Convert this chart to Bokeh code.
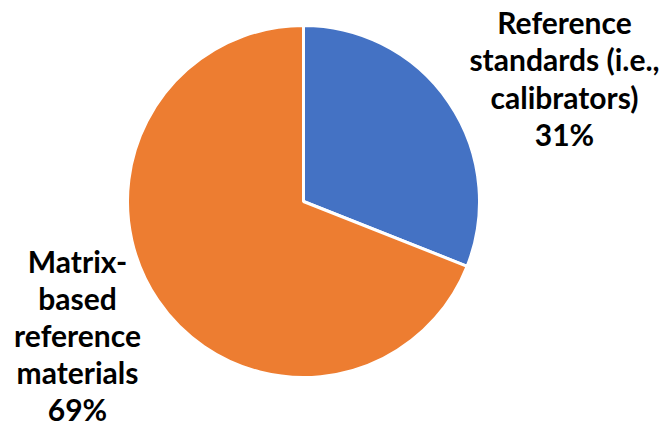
import math
from bokeh.plotting import figure
from bokeh.models import ColumnDataSource, Range1d
from bokeh.core.properties import value
from bokeh.embed import file_html
from bokeh.resources import INLINE

# ---- data ----
categories = ["Reference standards (i.e., calibrators)", "Matrix-based reference materials"]
percents = [31, 69]
colors = ["#4472C4", "#ED7D31"]
label_lines = [["Reference", "standards (i.e.,", "calibrators)"],
               ["Matrix-", "based", "reference", "materials"]]

# ---- layout (screen pixel coordinates, page 663x427) ----
W, H = 663, 427
cx, cy_screen, r = 303, 201, 176
label_x = [564, 77]
label_top_baseline = [21, 260]
line_steps = [37.5, 37]

def sy(y):
    return H - y

p = figure(width=W, height=H, output_backend="svg",
           toolbar_location=None, x_range=Range1d(0, W), y_range=Range1d(0, H),
           min_border=0, outline_line_color=None)
p.axis.visible = False
p.grid.visible = False
p.background_fill_color = "white"
p.border_fill_color = "white"

total = sum(percents)
starts, ends = [], []
a = math.pi / 2
for v in percents:
    starts.append(a)
    a = a - 2 * math.pi * v / total
    ends.append(a)

src = ColumnDataSource(dict(start=starts, end=ends, color=colors, cat=categories))
p.wedge(x=cx, y=sy(cy_screen), radius=r, start_angle="start", end_angle="end",
        direction="clock", fill_color="color", line_color="white", line_width=3,
        source=src)

tx, ty, tt = [], [], []
for i, lines in enumerate(label_lines):
    lines = lines + [f"{percents[i]}%"]
    for j, ln in enumerate(lines):
        tx.append(label_x[i])
        ty.append(sy(label_top_baseline[i] + j * line_steps[i]))
        tt.append(ln)

p.text(x=tx, y=ty, text=tt, text_font=value("Lato"), text_font_style="bold",
       text_font_size="30px", text_align="center", text_baseline="alphabetic",
       text_color="#000000")

open("out.html", "w").write(file_html(p, INLINE))
